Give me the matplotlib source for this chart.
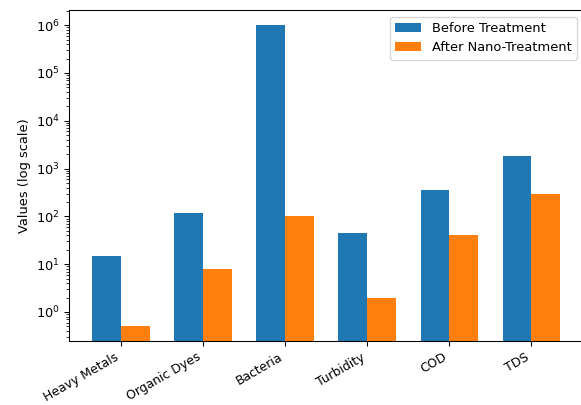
import matplotlib
matplotlib.use("Agg")
import matplotlib.pyplot as plt
import numpy as np

categories = ["Heavy Metals", "Organic Dyes", "Bacteria", "Turbidity", "COD", "TDS"]
before = [15, 120, 1e6, 45, 350, 1800]
after = [0.5, 8, 100, 2, 40, 300]

DPI = 94
fig, ax = plt.subplots(figsize=(581 / DPI, 405 / DPI), dpi=DPI)
x = np.arange(len(categories))
w = 0.35
ax.bar(x - w/2, before, w, label="Before Treatment", color="#1f77b4")
ax.bar(x + w/2, after, w, label="After Nano-Treatment", color="#ff7f0e")
ax.set_yscale("log")
ax.set_ylabel("Values (log scale)")
ax.set_xticks(x)
ax.set_xticklabels(categories, rotation=30, ha="right", fontsize=9.5)
ax.legend(loc="upper right")
fig.subplots_adjust(left=0.1188, right=1.004, top=0.975, bottom=0.157)
fig.savefig("out.png", dpi=DPI)
